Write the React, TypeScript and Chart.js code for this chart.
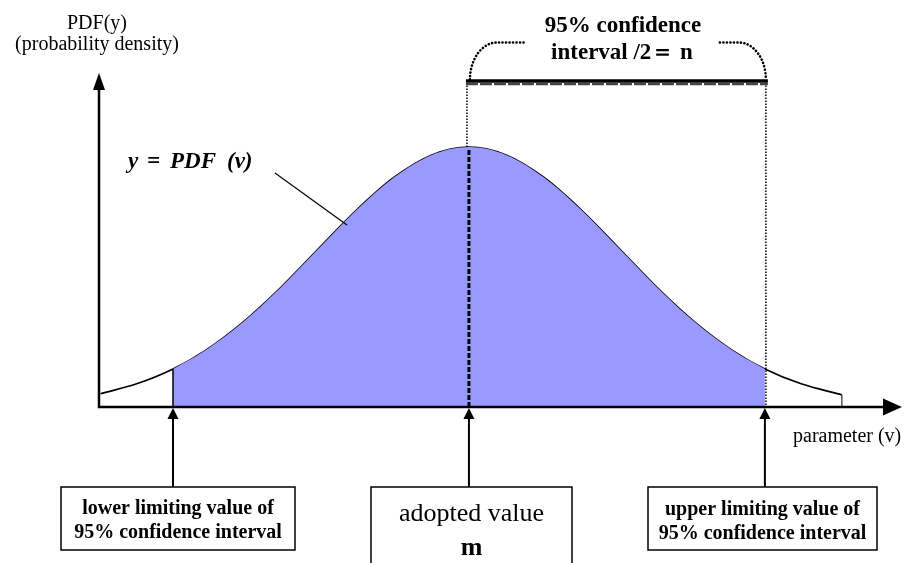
import React, { useEffect, useRef } from "react";
import { Chart, registerables } from "chart.js";

Chart.register(...registerables);

// parameter (v) in units of sigma, adopted value m = 0
const curveV = [-2.44, -2.2, -1.96, -1.75, -1.5, -1.25, -1.0, -0.75, -0.5, -0.25, 0, 0.25, 0.5, 0.75, 1.0, 1.25, 1.5, 1.75, 1.96, 2.2, 2.47];
const curveY = [0.051, 0.089, 0.146, 0.216, 0.325, 0.458, 0.607, 0.755, 0.882, 0.969, 1.0, 0.969, 0.882, 0.755, 0.607, 0.458, 0.325, 0.216, 0.146, 0.089, 0.047];
const lowerLimit = -1.96;
const adoptedValue = 0;
const upperLimit = 1.96;
const xRange = [-2.45, 2.868];
const yRange = [0, 1.285];

const SERIF = '"Liberation Serif", "Times New Roman", serif';

const labels = {
  yTitle1: "PDF(y)",
  yTitle2: "(probability density)",
  curveParts: ["y", "=", "PDF", "(v)"],
  xTitle: "parameter (v)",
  ci1: "95% confidence",
  ci2: "interval /2\uFF1D n",
  lower: ["lower limiting value of", "95% confidence interval"],
  adopted: ["adopted value", "m"],
  upper: ["upper limiting value of", "95% confidence interval"],
};

function arrowHead(ctx: CanvasRenderingContext2D, tipX: number, tipY: number, dir: "up" | "right", len: number, half: number) {
  ctx.beginPath();
  if (dir === "up") {
    ctx.moveTo(tipX, tipY);
    ctx.lineTo(tipX - half, tipY + len);
    ctx.lineTo(tipX + half, tipY + len);
  } else {
    ctx.moveTo(tipX, tipY);
    ctx.lineTo(tipX - len, tipY - half);
    ctx.lineTo(tipX - len, tipY + half);
  }
  ctx.closePath();
  ctx.fill();
}

const decorPlugin = {
  id: "decor",
  afterDatasetsDraw(chart: any) {
    const ctx: CanvasRenderingContext2D = chart.ctx;
    const xs = chart.scales.x;
    const ys = chart.scales.y;
    const area = chart.chartArea;
    const X = (v: number) => xs.getPixelForValue(v);
    const Y = (v: number) => ys.getPixelForValue(v);
    const valAt = (v: number) => curveY[curveV.indexOf(v)];
    const axisY = Y(0);
    const barY = area.top + 9.5;

    ctx.save();
    ctx.strokeStyle = "#000";
    ctx.fillStyle = "#000";

    // lower limit edge
    ctx.lineWidth = 1.5;
    ctx.beginPath();
    ctx.moveTo(X(lowerLimit), Y(valAt(lowerLimit)));
    ctx.lineTo(X(lowerLimit), axisY);
    ctx.stroke();

    // curve end tick
    const lastV = curveV[curveV.length - 1];
    ctx.lineWidth = 1;
    ctx.beginPath();
    ctx.moveTo(X(lastV), Y(curveY[curveY.length - 1]));
    ctx.lineTo(X(lastV), axisY);
    ctx.stroke();

    // thin dotted verticals
    ctx.lineWidth = 1.5;
    ctx.setLineDash([1.5, 1.5]);
    ctx.beginPath();
    ctx.moveTo(X(upperLimit) + 1, barY);
    ctx.lineTo(X(upperLimit) + 1, axisY);
    ctx.moveTo(X(adoptedValue) - 2, barY);
    ctx.lineTo(X(adoptedValue) - 2, Y(valAt(adoptedValue)));
    ctx.stroke();

    // center thick dashed
    ctx.lineWidth = 3;
    ctx.setLineDash([5, 2]);
    ctx.beginPath();
    ctx.moveTo(X(adoptedValue), Y(valAt(adoptedValue)) + 3);
    ctx.lineTo(X(adoptedValue), axisY);
    ctx.stroke();

    // top bar
    ctx.setLineDash([]);
    ctx.lineWidth = 3.5;
    ctx.beginPath();
    ctx.moveTo(X(adoptedValue) - 3, barY - 1.5);
    ctx.lineTo(X(upperLimit) + 3, barY - 1.5);
    ctx.stroke();
    ctx.strokeStyle = "#444";
    ctx.lineWidth = 2.5;
    ctx.setLineDash([12, 2]);
    ctx.beginPath();
    ctx.moveTo(X(adoptedValue) - 3, barY + 1.5);
    ctx.lineTo(X(upperLimit) + 3, barY + 1.5);
    ctx.stroke();
    ctx.strokeStyle = "#000";

    // bracket (dotted)
    ctx.lineWidth = 2.6;
    ctx.lineCap = "round";
    ctx.setLineDash([0.1, 3.4]);
    const lx = X(adoptedValue) + 1;
    const rx = X(upperLimit) + 1;
    ctx.beginPath();
    ctx.ellipse(lx + 27, barY - 3, 27, 37, 0, Math.PI, Math.PI * 1.5);
    ctx.lineTo(lx + 56, barY - 40);
    ctx.stroke();
    ctx.beginPath();
    ctx.moveTo(rx - 46, barY - 40);
    ctx.lineTo(rx - 27, barY - 40);
    ctx.ellipse(rx - 27, barY - 3, 27, 37, 0, Math.PI * 1.5, Math.PI * 2);
    ctx.stroke();
    ctx.setLineDash([]);
    ctx.lineCap = "butt";

    // axes
    ctx.lineWidth = 2.5;
    ctx.beginPath();
    ctx.moveTo(area.left, axisY);
    ctx.lineTo(area.right - 16, axisY);
    ctx.moveTo(area.left, axisY + 1.2);
    ctx.lineTo(area.left, area.top + 15);
    ctx.stroke();
    arrowHead(ctx, area.right, axisY, "right", 19, 8.5);
    arrowHead(ctx, area.left, area.top, "up", 17, 6);

    // boxes and arrows
    const boxTop = axisY + 80;
    const boxes = [
      { v: lowerLimit, l: 61, r: 295, b: 550, lines: labels.lower, fonts: [`bold 20px ${SERIF}`, `bold 20px ${SERIF}`], base: [514, 538] },
      { v: adoptedValue, l: 371, r: 572, b: 575, lines: labels.adopted, fonts: [`26px ${SERIF}`, `bold 26px ${SERIF}`], base: [521, 555] },
      { v: upperLimit, l: 648, r: 877, b: 550, lines: labels.upper, fonts: [`bold 20px ${SERIF}`, `bold 20px ${SERIF}`], base: [515, 539] },
    ];
    for (const bx of boxes) {
      const ax = X(bx.v);
      ctx.lineWidth = 2;
      ctx.beginPath();
      ctx.moveTo(ax, boxTop);
      ctx.lineTo(ax, axisY + 10);
      ctx.stroke();
      arrowHead(ctx, ax, axisY + 1, "up", 11, 5.5);
      ctx.fillStyle = "#fff";
      ctx.fillRect(bx.l, boxTop, bx.r - bx.l, bx.b - boxTop);
      ctx.fillStyle = "#000";
      ctx.lineWidth = 1.5;
      ctx.strokeRect(bx.l, boxTop, bx.r - bx.l, bx.b - boxTop);
      ctx.textAlign = "center";
      ctx.textBaseline = "alphabetic";
      bx.lines.forEach((t, i) => {
        ctx.font = bx.fonts[i];
        ctx.fillText(t, (bx.l + bx.r) / 2, bx.base[i]);
      });
    }

    // texts
    ctx.textAlign = "center";
    ctx.font = `20px ${SERIF}`;
    ctx.fillText(labels.yTitle1, area.left - 2, 29);
    ctx.fillText(labels.yTitle2, area.left - 2, 50);
    ctx.font = `bold 23px ${SERIF}`;
    ctx.fillText(labels.ci1, 623, 32);
    ctx.fillText(labels.ci2, 622, 59);
    ctx.textAlign = "left";
    ctx.font = `20px ${SERIF}`;
    ctx.fillText(labels.xTitle, 793, 442);
    ctx.font = `italic bold 23px ${SERIF}`;
    const partX = [128, 147, 170, 227];
    labels.curveParts.forEach((t, i) => ctx.fillText(t, partX[i], 168));

    // leader line
    ctx.lineWidth = 1.2;
    ctx.beginPath();
    ctx.moveTo(275, 173);
    ctx.lineTo(347, 225);
    ctx.stroke();

    ctx.restore();
  },
};

export default function App() {
  const ref = useRef<HTMLCanvasElement | null>(null);
  useEffect(() => {
    if (!ref.current) return;
    const curve = curveV.map((v, i) => ({ x: v, y: curveY[i] }));
    const band = curve.filter((p) => p.x >= lowerLimit && p.x <= upperLimit);
    const chart = new Chart(ref.current, {
      type: "line",
      data: {
        datasets: [
          {
            label: "95% interval",
            data: band,
            borderWidth: 0,
            borderColor: "rgba(0,0,0,0)",
            backgroundColor: "#9999FF",
            fill: "origin",
            cubicInterpolationMode: "monotone",
            pointRadius: 0,
          },
          {
            label: "PDF",
            data: curve,
            borderWidth: 1.6,
            borderColor: "#000",
            fill: false,
            cubicInterpolationMode: "monotone",
            pointRadius: 0,
          },
        ],
      },
      options: {
        responsive: false,
        animation: false,
        layout: { padding: { left: 99, right: 2, top: 73, bottom: 156 } },
        scales: {
          x: { type: "linear", display: false, min: xRange[0], max: xRange[1] },
          y: { type: "linear", display: false, min: yRange[0], max: yRange[1] },
        },
        plugins: { legend: { display: false }, tooltip: { enabled: false } },
      },
      plugins: [decorPlugin],
    });
    return () => chart.destroy();
  }, []);
  return (
    <div style={{ position: "fixed", left: 0, top: 0, width: 904, height: 563, background: "#fff" }}>
      <canvas ref={ref} width={904} height={563} />
    </div>
  );
}
